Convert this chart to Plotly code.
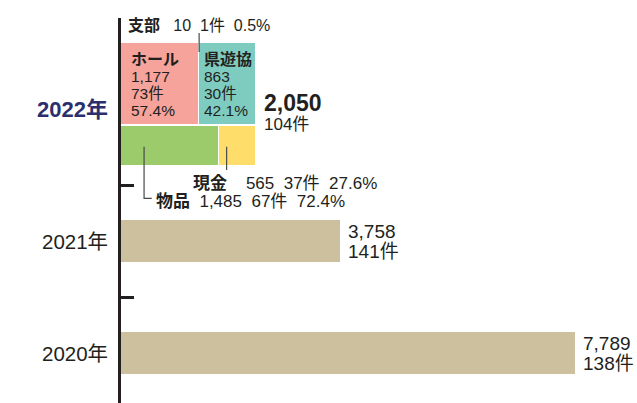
import plotly.graph_objects as go

# ---------------- data ----------------
years = ["2020年", "2021年", "2022年"]
totals = [7789, 3758, 2050]
counts = [138, 141, 104]

source_labels = ["ホール", "支部", "県遊協"]
source_values = [1177, 10, 863]
source_counts = [73, 1, 30]
source_pcts = [57.4, 0.5, 42.1]

type_labels = ["物品", "現金"]
type_values = [1485, 565]
type_counts = [67, 37]
type_pcts = [72.4, 27.6]

# ---------------- style / layout constants ----------------
TXT = "#231F20"
FONT = "Liberation Sans, Arial, Noto Sans CJK JP, sans-serif"
TAN = "#CDC09E"
SRC_COLORS = ["#F5A39B", "#DCA6D6", "#7ECCC0"]
TYPE_COLORS = ["#9CCB6B", "#FFDD6A"]
NAVY = "#2B2F6E"

Y_OLD = [0, 1]          # 2020, 2021 rows
BAR_W = 0.375
Y_TOP = 2.40            # 2022 source row
W_TOP = 0.73
Y_BOT = 1.849           # 2022 type row
W_BOT = 0.36

fig = go.Figure()

# 2020 / 2021 totals
fig.add_trace(go.Bar(
    x=totals[:2], y=Y_OLD, orientation="h", width=BAR_W,
    marker=dict(color=TAN, line=dict(width=0)), xaxis="x", yaxis="y",
    hoverinfo="skip", showlegend=False))

# 2022 breakdown by source (stacked)
for i, (lab, v) in enumerate(zip(source_labels, source_values)):
    fig.add_trace(go.Bar(
        x=[v], y=[Y_TOP], orientation="h", width=W_TOP,
        marker=dict(color=SRC_COLORS[i],
                    line=dict(color="white", width=0 if v < 50 else 1)),
        xaxis="x2", yaxis="y", hoverinfo="skip", showlegend=False, name=lab))

# 2022 breakdown by type (stacked)
for i, (lab, v) in enumerate(zip(type_labels, type_values)):
    fig.add_trace(go.Bar(
        x=[v], y=[Y_BOT], orientation="h", width=W_BOT,
        marker=dict(color=TYPE_COLORS[i], line=dict(color="white", width=1)),
        xaxis="x2", yaxis="y", hoverinfo="skip", showlegend=False, name=lab))

ann = []
def A(text, x, y, xref="x", size=15, color=TXT, xanchor="left", xshift=0,
      yshift=0, bold=False):
    ann.append(dict(text=f"<b>{text}</b>" if bold else text, x=x, y=y,
                    xref=xref, yref="y", showarrow=False, xanchor=xanchor,
                    yanchor="middle", xshift=xshift, yshift=yshift,
                    font=dict(family=FONT, size=size, color=color)))

NB = "\u00a0"

# year labels
A(years[0], 0, Y_OLD[0], xref="paper", size=20.5, xanchor="right", xshift=-11)
A(years[1], 0, Y_OLD[1], xref="paper", size=20.5, xanchor="right", xshift=-11)
A(years[2], 0, 2.17, xref="paper", size=22, xanchor="right", xshift=-11,
  color=NAVY, bold=True)

# totals for 2020 / 2021
for yi, t, c in zip(Y_OLD, totals[:2], counts[:2]):
    A(f"{t:,}", t, yi, size=19, xshift=6, yshift=10)
    A(f"{c}件", t, yi, size=19, xshift=6, yshift=-10)

# 2022 total
A(f"{totals[2]:,}", totals[2], Y_TOP, xref="x2", size=23, xshift=6,
  yshift=-19, bold=True)
A(f"{counts[2]}件", totals[2], Y_TOP, xref="x2", size=17, xshift=6, yshift=-40)

# block texts (ホール, 県遊協)
line_shifts = [25, 8, -9, -26]
for idx, xs in ((0, 8), (2, 3)):
    start = sum(source_values[:idx])
    lines = [source_labels[idx], f"{source_values[idx]:,}",
             f"{source_counts[idx]}件", f"{source_pcts[idx]}%"]
    for k, (ln, ys) in enumerate(zip(lines, line_shifts)):
        A(ln, start, Y_TOP, xref="x2", size=15.5 if k else 16, xshift=xs,
          yshift=ys, bold=(k == 0))

# 支部 label + leader
shibu_x = source_values[0] + source_values[1] / 2
A(f"<b>{source_labels[1]}</b>{NB*3}{source_values[1]}{NB*2}"
  f"{source_counts[1]}件{NB*2}{source_pcts[1]}%",
  0, 2.929, xref="x2", size=16, xshift=5)

# 現金 / 物品 labels
green_leader_x = type_values[0] * 0.235
yellow_leader_x = type_values[0] + type_values[1] * 0.2
A(f"<b>{type_labels[1]}</b>{NB*4}{type_values[1]}{NB*2}{type_counts[1]}件"
  f"{NB*2}{type_pcts[1]}%", yellow_leader_x, 1.515, xref="x2", size=17,
  xshift=-36)
A(f"<b>{type_labels[0]}</b>{NB*2}{type_values[0]:,}{NB*2}{type_counts[0]}件"
  f"{NB*2}{type_pcts[0]}%", green_leader_x, 1.351, xref="x2", size=17,
  xshift=10)

LEAD = dict(color="#4A4A4A", width=1.2)
shapes = [
    dict(type="line", xref="x2", yref="y", x0=shibu_x, x1=shibu_x,
         y0=2.857, y1=2.6875, line=LEAD),
    dict(type="line", xref="x2", yref="y", x0=yellow_leader_x,
         x1=yellow_leader_x, y0=1.842, y1=1.634, line=LEAD),
    dict(type="path", xref="x2", yref="y",
         path=f"M {green_leader_x},1.842 L {green_leader_x},1.381 "
              f"L {green_leader_x + 116},1.381", line=LEAD),
]

fig.update_layout(
    width=637, height=403,
    margin=dict(l=121, r=0, t=18, b=0),
    paper_bgcolor="white", plot_bgcolor="white",
    barmode="stack", bargap=0,
    showlegend=False,
    xaxis=dict(range=[0, 8851], visible=False, fixedrange=True),
    xaxis2=dict(range=[0, 7807], visible=False, overlaying="x", anchor="y",
                fixedrange=True),
    yaxis=dict(range=[-0.4464, 2.991], showline=True, linecolor=TXT,
               linewidth=2.5, ticks="inside", tickvals=[0.5, 1.5],
               ticklen=13, tickwidth=2.5, tickcolor=TXT,
               showticklabels=False, showgrid=False, zeroline=False,
               fixedrange=True),
    annotations=ann, shapes=shapes,
)

fig.write_html("out.html", config={"displayModeBar": False},
               post_script="document.body.style.margin='0';"
                           "document.body.style.overflow='hidden';")
